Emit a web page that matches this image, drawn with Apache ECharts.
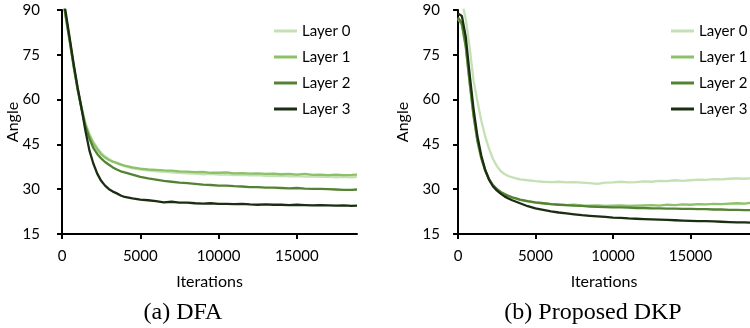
<!DOCTYPE html>
<html>
<head>
<meta charset="utf-8">
<script src="https://cdn.jsdelivr.net/npm/echarts@6/dist/echarts.min.js"></script>
<style>
html,body{margin:0;padding:0;background:#fff;}
#c{width:750px;height:328px;}
</style>
</head>
<body>
<div id="c"></div>
<script>
// Iterations (x) shared by all series
const iterations = [0,250,500,750,1000,1250,1500,1750,2000,2250,2500,2750,3000,3250,3500,3750,4000,
  4500,5000,5500,6000,6500,7000,7500,8000,8500,9000,9500,10000,10500,11000,11500,12000,12500,13000,
  13500,14000,14500,15000,15500,16000,16500,17000,17500,18000,18500,18840];

const layerNames = ['Layer 0','Layer 1','Layer 2','Layer 3'];
const xTicks = [0,5000,10000,15000];
const yTicks = [15,30,45,60,75,90];
const captions = ['(a) DFA','(b) Proposed DKP'];

// (a) DFA
const dfaLayer0 = [95.5,87,79,70.8,63.5,57.5,52.2,48.6,45.9,43.9,42.2,41.0,40.1,39.3,38.7,38.1,37.7,
  37.0,36.6,36.3,36.0,35.9,35.6,35.5,35.3,35.2,35.0,35.1,34.9,35.0,34.7,34.8,34.6,34.7,34.5,
  34.4,34.5,34.3,34.4,34.2,34.3,34.1,34.2,34.0,34.1,34.0,34.1];
const dfaLayer1 = [96,87.5,79.5,71.0,63.5,57.2,51.5,48.0,45.3,43.4,41.7,40.6,39.8,39.2,38.8,38.3,37.9,
  37.3,36.9,36.6,36.5,36.3,36.2,36.0,35.9,35.7,35.8,35.5,35.5,35.6,35.3,35.4,35.2,35.3,35.1,
  35.2,35.0,35.1,34.9,35.1,34.8,34.9,34.7,34.9,34.7,34.8,34.9];
const dfaLayer2 = [96,87.5,79.5,71,63.3,56.8,51.0,47.0,43.8,41.8,40.3,39.1,38.2,37.3,36.6,36.0,35.6,
  34.9,34.1,33.6,33.2,32.8,32.5,32.2,32.0,31.8,31.5,31.4,31.2,31.2,31.0,30.9,30.7,30.7,30.5,
  30.5,30.4,30.3,30.4,30.2,30.1,30.1,30.0,29.9,29.8,29.8,29.9];
const dfaLayer3 = [97,88.8,80.3,71.8,64.0,57.0,49.5,43.0,38.6,35.2,32.8,31.2,30.0,29.2,28.6,27.9,27.4,
  26.9,26.5,26.3,26.0,25.6,25.8,25.5,25.5,25.3,25.2,25.3,25.1,25.1,25.0,25.1,24.9,24.8,24.9,
  24.8,24.8,24.7,24.8,24.7,24.6,24.7,24.6,24.5,24.6,24.4,24.5];

// (b) Proposed DKP
const dkpLayer0 = [96,93,87,77.5,66.5,59.5,53.0,47.8,43.6,40.2,37.8,36.1,35.1,34.4,34.0,33.6,33.3,
  33.0,32.7,32.5,32.4,32.5,32.3,32.4,32.2,32.0,31.8,32.2,32.3,32.5,32.3,32.4,32.6,32.5,32.8,
  32.7,33.0,32.8,33.0,33.2,33.1,33.4,33.3,33.5,33.6,33.5,33.6];
const dkpLayer1 = [87,85,77.5,65.5,54.5,46,40.3,36.3,33.4,31.4,30.0,29.0,28.3,27.7,27.2,26.8,26.4,
  25.9,25.5,25.3,25.0,24.9,24.7,24.8,24.6,24.5,24.6,24.4,24.5,24.6,24.4,24.5,24.6,24.7,24.5,
  24.8,24.7,24.9,24.8,25.0,24.9,25.1,25.0,25.2,25.3,25.2,25.4];
const dkpLayer2 = [87.5,85.5,78,66,55,46.5,40.6,36.4,33.4,31.4,30.1,29.1,28.4,27.8,27.3,26.9,26.5,
  26.0,25.6,25.3,25.0,24.8,24.7,24.5,24.4,24.2,24.1,24.0,23.9,23.9,23.8,23.7,23.7,23.6,23.6,
  23.5,23.5,23.4,23.4,23.3,23.3,23.2,23.2,23.1,23.1,23.0,23.0];
const dkpLayer3 = [88.8,88.0,81,68.5,57,47.8,41.3,36.5,33.2,31.0,29.6,28.5,27.6,26.9,26.3,25.8,25.3,
  24.3,23.6,23.1,22.6,22.2,21.9,21.6,21.3,21.1,20.9,20.7,20.5,20.4,20.2,20.1,20.0,19.9,19.8,
  19.7,19.6,19.5,19.4,19.3,19.3,19.2,19.1,19.0,18.9,18.9,18.8];

const colors = ['#c5e0b4','#8cc168','#548235','#1b2d12'];
const panels = [
  {layers:[dfaLayer0,dfaLayer1,dfaLayer2,dfaLayer3]},
  {layers:[dkpLayer0,dkpLayer1,dkpLayer2,dkpLayer3]}
];

const FONT = 'Lato';
const chart = echarts.init(document.getElementById('c'), null, {renderer:'canvas'});

const gridDefs = [
  {left:62, top:10, width:295, height:224},
  {left:458, top:10, width:296, height:224}
];
const yLabelMargin = [22, 18];
const yNameGap = [41, 47];
const legendLeft = [269, 666];
const captionX = [183, 593];

const option = {
  animation:false,
  backgroundColor:'#fff',
  textStyle:{fontFamily:FONT, color:'#000'},
  grid: gridDefs,
  xAxis: gridDefs.map((g,i)=>({
    type:'value', gridIndex:i, min:0, max:18840,
    name:'Iterations', nameLocation:'middle', nameGap:40, nameMoveOverlap:false,
    nameTextStyle:{fontFamily:FONT, fontSize:16, color:'#000'},
    axisLine:{show:true, onZero:false, lineStyle:{color:'#000', width:2}},
    axisTick:{show:true, length:5, lineStyle:{color:'#000', width:2}, customValues:xTicks},
    axisLabel:{color:'#000', fontSize:15, fontFamily:FONT, margin:15, customValues:xTicks,
      formatter:(v)=>String(v)},
    splitLine:{show:false}
  })),
  yAxis: gridDefs.map((g,i)=>({
    type:'value', gridIndex:i, min:15, max:90, interval:15,
    name:'Angle', nameLocation:'middle', nameGap:yNameGap[i], nameMoveOverlap:false,
    nameTextStyle:{fontFamily:FONT, fontSize:16, color:'#000'},
    axisLine:{show:true, lineStyle:{color:'#000', width:2}},
    axisTick:{show:true, length:5, lineStyle:{color:'#000', width:2}},
    axisLabel:{color:'#000', fontSize:15, fontFamily:FONT, margin:yLabelMargin[i]},
    splitLine:{show:false}
  })),
  legend: [0,1].map(i=>({
    data: layerNames.map(n=>({name:n, icon:'rect'})),
    orient:'vertical', left:legendLeft[i], top:18,
    itemWidth:23, itemHeight:3, itemGap:10,
    textStyle:{fontFamily:FONT, fontSize:15, color:'#000', lineHeight:16},
    selectedMode:false
  })),
  series: [],
  graphic: captions.map((t,i)=>({
    type:'text', x: captionX[i], y: 313,
    style:{text:t, font:'24px "Liberation Serif"', fill:'#000', textAlign:'center', textVerticalAlign:'middle'}
  }))
};

panels.forEach((p,pi)=>{
  p.layers.forEach((vals,li)=>{
    option.series.push({
      type:'line', name:layerNames[li], xAxisIndex:pi, yAxisIndex:pi,
      data: iterations.map((it,k)=>[it, vals[k]]),
      symbol:'none', clip:true,
      lineStyle:{color:colors[li], width:2.3},
      itemStyle:{color:colors[li]}
    });
  });
});

chart.setOption(option);
</script>
</body>
</html>
